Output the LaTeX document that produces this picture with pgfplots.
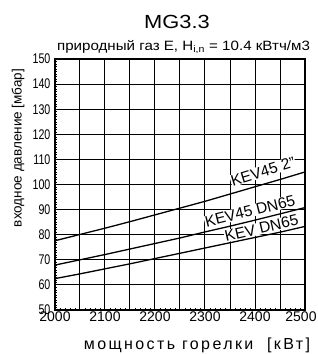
\documentclass[border=0pt]{standalone}
\usepackage{pgfplots}
\pgfplotsset{compat=1.18}
\usepackage{fontspec}
\setmainfont{Liberation Sans}
\begin{document}
\begin{tikzpicture}
\useasboundingbox (-55pt,-44pt) rectangle (263pt,310pt);
\begin{axis}[
  at={(0,0)}, anchor=south west,
  scale only axis, width=250pt, height=251pt,
  xmin=2000, xmax=2500, ymin=50, ymax=150,
  xtick={2000,2050,...,2500},
  xticklabels={2000,,2100,,2200,,2300,,2400,,\hspace*{-8pt}2500},
  ytick={50,60,...,150},
  minor x tick num=4, minor y tick num=9,
  grid=major,
  major grid style={black, line width=1pt},
  major tick length=2.5pt, minor tick length=2.5pt,
  major tick style={black, line width=1pt},
  minor tick style={black, line width=0.5pt},
  tick align=inside,
  xtick pos=lower, ytick pos=left,
  axis line style={line width=1.4pt},
  tick label style={font=\fontsize{14}{14}\selectfont},
  xticklabel style={inner sep=0pt, yshift=-1.5pt},
  yticklabel style={inner sep=0pt, xshift=-4.5pt, xscale=0.76},
  /pgf/number format/assume math mode=true,
  /pgf/number format/1000 sep={},
]
\node[rotate=17, fill=white, inner sep=0.5pt, font=\fontsize{15.5}{15.5}\selectfont] at (axis cs:2416,105.2) {KEV45 2"};
\node[rotate=14, fill=white, inner sep=0.5pt, font=\fontsize{15.5}{15.5}\selectfont] at (axis cs:2390,89.4) {KEV45 DN65};
\node[rotate=13, fill=white, inner sep=0.5pt, font=\fontsize{15.5}{15.5}\selectfont] at (axis cs:2413,82.6) {KEV DN65};
\addplot[black, line width=1.3pt] coordinates {
(2000,77.6) (2050,80.1) (2100,82.6) (2150,85.2) (2200,87.9) (2250,90.6)
(2300,93.3) (2350,96.2) (2400,99.1) (2450,102.0) (2500,105.0)};
\addplot[black, line width=1.3pt] coordinates {
(2000,67.9) (2050,70.0) (2100,72.1) (2150,74.3) (2200,76.5) (2250,78.7)
(2300,81.1) (2350,83.4) (2400,85.8) (2450,88.3) (2500,90.8)};
\addplot[black, line width=1.3pt] coordinates {
(2000,62.5) (2050,64.4) (2100,66.4) (2150,68.4) (2200,70.5) (2250,72.6)
(2300,74.7) (2350,76.8) (2400,78.9) (2450,81.0) (2500,83.3)};
\end{axis}
\node[font=\fontsize{19}{19}\selectfont, xscale=1.15] at (122pt,288.5pt) {MG3.3};
\node[font=\fontsize{13.5}{13.5}\selectfont, xscale=1.12] at (128.5pt,262.5pt) {природный газ E, H\textsubscript{i,n} = 10.4 кВтч/м3};
\node[rotate=90, font=\fontsize{13.5}{13.5}\selectfont] at (-37pt,162pt) {входное давление [мбар]};
\node[font=\fontsize{16}{16}\selectfont\addfontfeature{LetterSpace=15}] at (142pt,-35pt) {мощность горелки\ \ [кВт]};
\end{tikzpicture}
\end{document}
